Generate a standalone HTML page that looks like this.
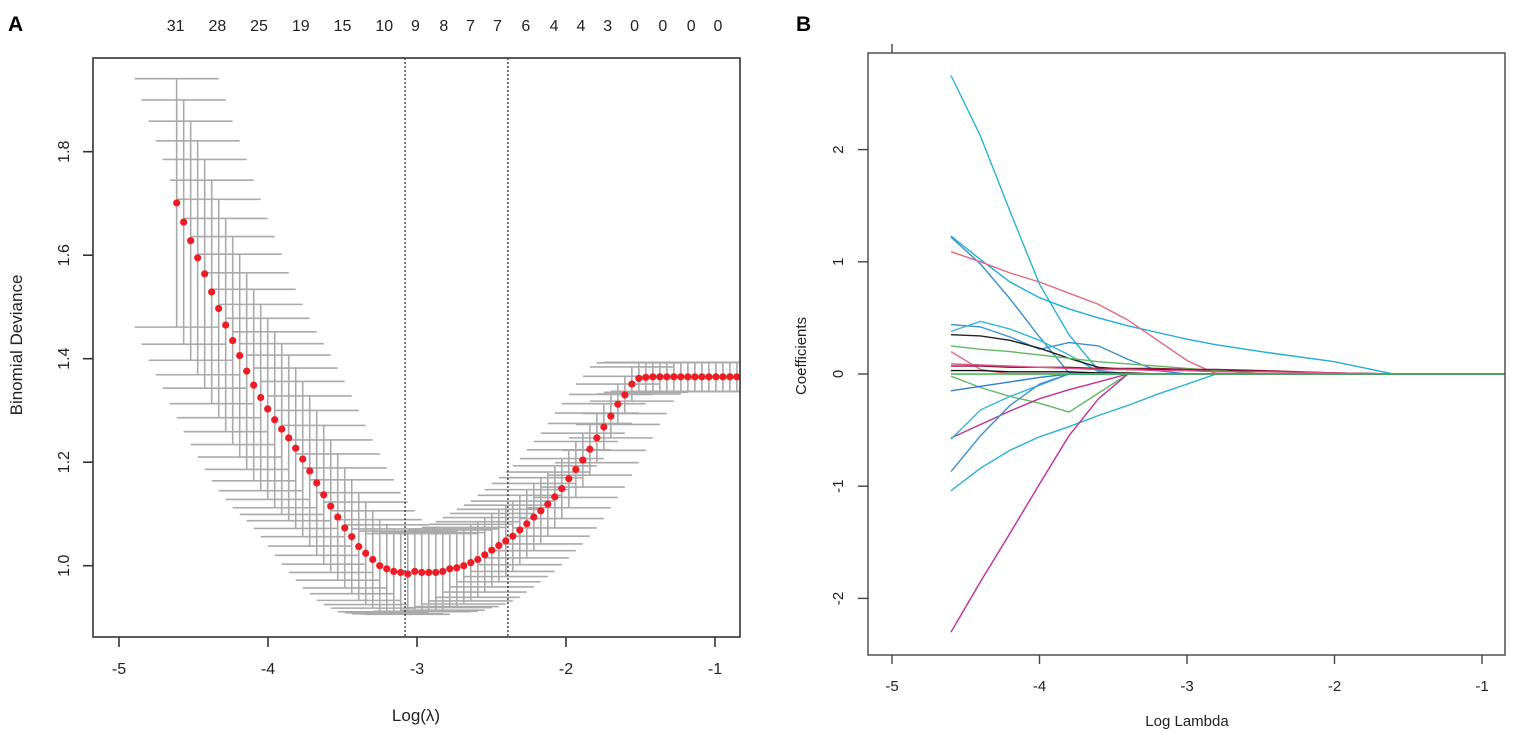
<!DOCTYPE html>
<html><head><meta charset="utf-8"><style>
html,body{margin:0;padding:0;background:#fff;}
svg{display:block;font-family:"Liberation Sans",Arial,sans-serif;}
</style></head><body>
<svg id="chart" width="1535" height="753" viewBox="0 0 1535 753" xmlns="http://www.w3.org/2000/svg">
<defs><clipPath id="clipA"><rect x="93" y="58" width="647" height="579"/></clipPath></defs>
<text x="8" y="31" font-size="21" font-weight="bold">A</text>
<text x="796" y="31" font-size="21" font-weight="bold">B</text>
<g id="pa"></g>
<g id="pb"></g>
</svg>
<script>
// ---------- Panel A data ----------
const aStart = -4.613;
const aStep = 0.047;
const aMeans = [1.701,1.664,1.628,1.595,1.564,1.529,1.497,1.465,1.435,1.406,1.376,1.349,1.325,1.303,1.282,1.264,1.247,1.227,1.206,1.183,1.160,1.137,1.115,1.094,1.073,1.056,1.037,1.024,1.012,1.000,0.994,0.989,0.987,0.984,0.989,0.987,0.987,0.987,0.989,0.994,0.996,1.000,1.006,1.012,1.021,1.030,1.039,1.048,1.057,1.069,1.081,1.094,1.106,1.119,1.133,1.149,1.168,1.186,1.204,1.225,1.247,1.268,1.289,1.312,1.330,1.351,1.362,1.364,1.365,1.365,1.365,1.365,1.365,1.365,1.365,1.365,1.365,1.365,1.365,1.365,1.365];
const aSE = [0.240,0.236,0.231,0.226,0.221,0.216,0.211,0.206,0.201,0.196,0.190,0.185,0.180,0.175,0.170,0.165,0.160,0.155,0.150,0.145,0.140,0.134,0.128,0.122,0.116,0.110,0.104,0.099,0.094,0.089,0.085,0.082,0.080,0.078,0.077,0.076,0.076,0.075,0.075,0.075,0.075,0.074,0.074,0.073,0.072,0.071,0.070,0.069,0.068,0.067,0.066,0.065,0.064,0.062,0.060,0.058,0.056,0.054,0.052,0.050,0.048,0.045,0.042,0.039,0.036,0.033,0.030,0.029,0.028,0.028,0.028,0.028,0.028,0.028,0.028,0.028,0.028,0.028,0.028,0.028,0.028];
const aXTicks = [-5,-4,-3,-2,-1];
const aYTicks = [1.0,1.2,1.4,1.6,1.8];
const aTopLabels = ["31","28","25","19","15","10","9","8","7","7","6","4","4","3","0","0","0","0"];
const aTopPos = [-4.62,-4.34,-4.06,-3.78,-3.50,-3.22,-3.01,-2.82,-2.64,-2.46,-2.27,-2.08,-1.90,-1.72,-1.54,-1.35,-1.16,-0.98];
const aVLines = [-3.08,-2.39];

// ---------- Panel B data ----------
const bLambda = [-4.6,-4.4,-4.2,-4.0,-3.8,-3.6,-3.4,-3.2,-3.0,-2.8,-2.5,-2.0,-1.6,-0.85];
const bCyan1   = [2.66,2.12,1.45,0.80,0.35,0.03,0,0,0,0,0,0,0,0];
const bBlue1   = [1.22,0.98,0.67,0.33,0.01,0,0,0,0,0,0,0,0,0];
const bCyan2   = [1.23,1.02,0.82,0.68,0.58,0.50,0.43,0.37,0.31,0.26,0.20,0.11,0,0];
const bRed1    = [1.09,1.00,0.90,0.82,0.72,0.62,0.48,0.30,0.12,0,0,0,0,0];
const bBlue2   = [0.44,0.42,0.33,0.22,0.28,0.25,0.13,0.03,0,0,0,0,0,0];
const bCyan3   = [0.38,0.47,0.40,0.30,0.17,0.02,0,0,0,0,0,0,0,0];
const bBlack1  = [0.35,0.34,0.30,0.23,0.14,0.06,0.04,0.04,0.035,0.03,0.025,0.01,0,0];
const bGreen1  = [0.25,0.22,0.20,0.17,0.14,0.11,0.09,0.07,0.05,0.03,0,0,0,0];
const bPink1   = [0.20,0.04,0,0,0,0,0,0,0,0,0,0,0,0];
const bDarkRed = [0.07,0.07,0.06,0.06,0.06,0.05,0.05,0.05,0.04,0.04,0.03,0.01,0,0];
const bPink2   = [0.09,0.08,0.07,0.06,0.05,0.04,0.04,0.03,0.03,0.02,0.02,0.01,0,0];
const bBlack2  = [0.03,0.03,0.02,0.02,0.02,0.01,0.01,0,0,0,0,0,0,0];
const bGreen0  = [0.0,0.0,0.0,0.0,0.0,0.0,0.0,0.0,0.0,0.0,0.0,0.0,0.0,0.0];
const bGreen2  = [-0.02,-0.12,-0.20,-0.26,-0.34,-0.17,0,0,0,0,0,0,0,0];
const bBlue3   = [-0.15,-0.11,-0.07,-0.03,0,0,0,0,0,0,0,0,0,0];
const bMag1    = [-0.57,-0.45,-0.33,-0.22,-0.14,-0.07,0,0,0,0,0,0,0,0];
const bCyan4   = [-0.58,-0.32,-0.20,-0.10,0,0,0,0,0,0,0,0,0,0];
const bBlue4   = [-0.87,-0.55,-0.28,-0.09,0,0,0,0,0,0,0,0,0,0];
const bCyan5   = [-1.04,-0.84,-0.68,-0.56,-0.47,-0.37,-0.28,-0.18,-0.09,0,0,0,0,0];
const bMag2    = [-2.30,-1.85,-1.42,-0.98,-0.55,-0.22,0,0,0,0,0,0,0,0];
const bXTicks = [-5,-4,-3,-2,-1];
const bYTicks = [-2,-1,0,1,2];

const NS = "http://www.w3.org/2000/svg";
function mk(parent, tag, attrs, text){
  const e = document.createElementNS(NS, tag);
  for (const k in attrs) e.setAttribute(k, attrs[k]);
  if (text !== undefined) e.textContent = text;
  parent.appendChild(e);
  return e;
}

// ---------- Panel A ----------
const pa = document.getElementById('pa');
const ax = v => 119 + (v + 5) * 149;
const ay = v => 565.7 - (v - 1.0) * 517.5;
const A_L = 93, A_T = 58, A_R = 740, A_B = 637;

const barsG = mk(pa, 'g', {'clip-path': 'url(#clipA)'});


aMeans.forEach((m, i) => {
  const px = ax(aStart + i * aStep);
  const se = aSE[i];
  const g = mk(barsG, 'g', {stroke: '#aaaaaa', 'stroke-width': 1.6});
  
  
  mk(g, 'line', {x1: px, x2: px, y1: ay(m + se), y2: ay(m - se)});
  mk(g, 'line', {x1: px - 42, x2: px + 42, y1: ay(m + se), y2: ay(m + se)});
  mk(g, 'line', {x1: px - 42, x2: px + 42, y1: ay(m - se), y2: ay(m - se)});
});
aVLines.forEach(v => {
  const l = mk(pa, 'line', {x1: ax(v), x2: ax(v), y1: A_T, y2: A_B, stroke: '#222', 'stroke-width': 1.2, 'stroke-dasharray': '2,2'});
  
  
});
aMeans.forEach((m, i) => {
  const c = mk(pa, 'circle', {cx: ax(aStart + i * aStep), cy: ay(m), r: 3.6, fill: '#ee1c25'});
  
  
});
const aBox = mk(pa, 'rect', {x: A_L, y: A_T, width: A_R - A_L, height: A_B - A_T, fill: 'none', stroke: '#333', 'stroke-width': 1.6});


aXTicks.forEach(t => {
  mk(pa, 'line', {x1: ax(t), x2: ax(t), y1: A_B, y2: A_B + 10, stroke: '#333', 'stroke-width': 1.6});
  const tx = mk(pa, 'text', {x: ax(t), y: 674, 'font-size': 16, 'text-anchor': 'middle', fill: '#222'}, String(t));
  
  
});
aYTicks.forEach(t => {
  mk(pa, 'line', {x1: A_L - 10, x2: A_L, y1: ay(t), y2: ay(t), stroke: '#333', 'stroke-width': 1.6});
  const tx = mk(pa, 'text', {x: 0, y: 0, 'font-size': 16, 'text-anchor': 'middle', fill: '#222', transform: `translate(69,${ay(t)}) rotate(-90)`}, t.toFixed(1));
  
  
});
aTopLabels.forEach((s, i) => {
  const tx = mk(pa, 'text', {x: ax(aTopPos[i]), y: 31, 'font-size': 16, 'text-anchor': 'middle', fill: '#222'}, s);
  
  
});
const axt = mk(pa, 'text', {x: 416, y: 721, 'font-size': 17, 'text-anchor': 'middle', fill: '#222'}, 'Log(λ)');


const ayt = mk(pa, 'text', {x: 0, y: 0, 'font-size': 17, 'text-anchor': 'middle', fill: '#222', transform: 'translate(22,345) rotate(-90)'}, 'Binomial Deviance');



// ---------- Panel B ----------
const pb = document.getElementById('pb');
const bx = v => 892 + (v + 5) * 147.5;
const by = v => 374 - v * 112.2;
const B_L = 868, B_T = 53, B_R = 1505, B_B = 655;
const series = [
  [bCyan1,'#29b2d4'],[bBlue1,'#3b8ed0'],[bCyan2,'#20aed6'],[bRed1,'#df6b7c'],
  [bBlue2,'#3b8ed0'],[bCyan3,'#30b6d6'],[bBlack1,'#222222'],[bGreen1,'#62b862'],
  [bPink1,'#e07080'],[bDarkRed,'#8b1a3a'],[bPink2,'#e0508a'],[bBlack2,'#111111'],
  [bGreen2,'#62b862'],[bBlue3,'#2c7fd0'],[bMag1,'#c0309a'],[bCyan4,'#30b6d6'],
  [bBlue4,'#3b8ed0'],[bCyan5,'#29b2d4'],[bMag2,'#c0309a'],[bGreen0,'#3cb84a']
];
series.forEach(([vals, col]) => {
  const pts = vals.map((v, i) => bx(bLambda[i]).toFixed(1) + ',' + by(v).toFixed(1)).join(' ');
  const pl = mk(pb, 'polyline', {points: pts, fill: 'none', stroke: col, 'stroke-width': 1.4});
  
  
});
const bBox = mk(pb, 'rect', {x: B_L, y: B_T, width: B_R - B_L, height: B_B - B_T, fill: 'none', stroke: '#444', 'stroke-width': 1.4});


mk(pb, 'line', {x1: bx(-5), x2: bx(-5), y1: B_T - 9, y2: B_T, stroke: '#444', 'stroke-width': 1.4});
bXTicks.forEach(t => {
  mk(pb, 'line', {x1: bx(t), x2: bx(t), y1: B_B, y2: B_B + 9, stroke: '#444', 'stroke-width': 1.4});
  const tx = mk(pb, 'text', {x: bx(t), y: 691, 'font-size': 15, 'text-anchor': 'middle', fill: '#222'}, String(t));
  
  
});
bYTicks.forEach(t => {
  mk(pb, 'line', {x1: B_L - 10, x2: B_L, y1: by(t), y2: by(t), stroke: '#444', 'stroke-width': 1.4});
  const tx = mk(pb, 'text', {x: 0, y: 0, 'font-size': 15, 'text-anchor': 'middle', fill: '#222', transform: `translate(843,${by(t)}) rotate(-90)`}, String(t));
  
  
});
const bxt = mk(pb, 'text', {x: 1187, y: 726, 'font-size': 15, 'text-anchor': 'middle', fill: '#222'}, 'Log Lambda');


const byt = mk(pb, 'text', {x: 0, y: 0, 'font-size': 15, 'text-anchor': 'middle', fill: '#222', transform: 'translate(806,356) rotate(-90)'}, 'Coefficients');


</script>
</body></html>
